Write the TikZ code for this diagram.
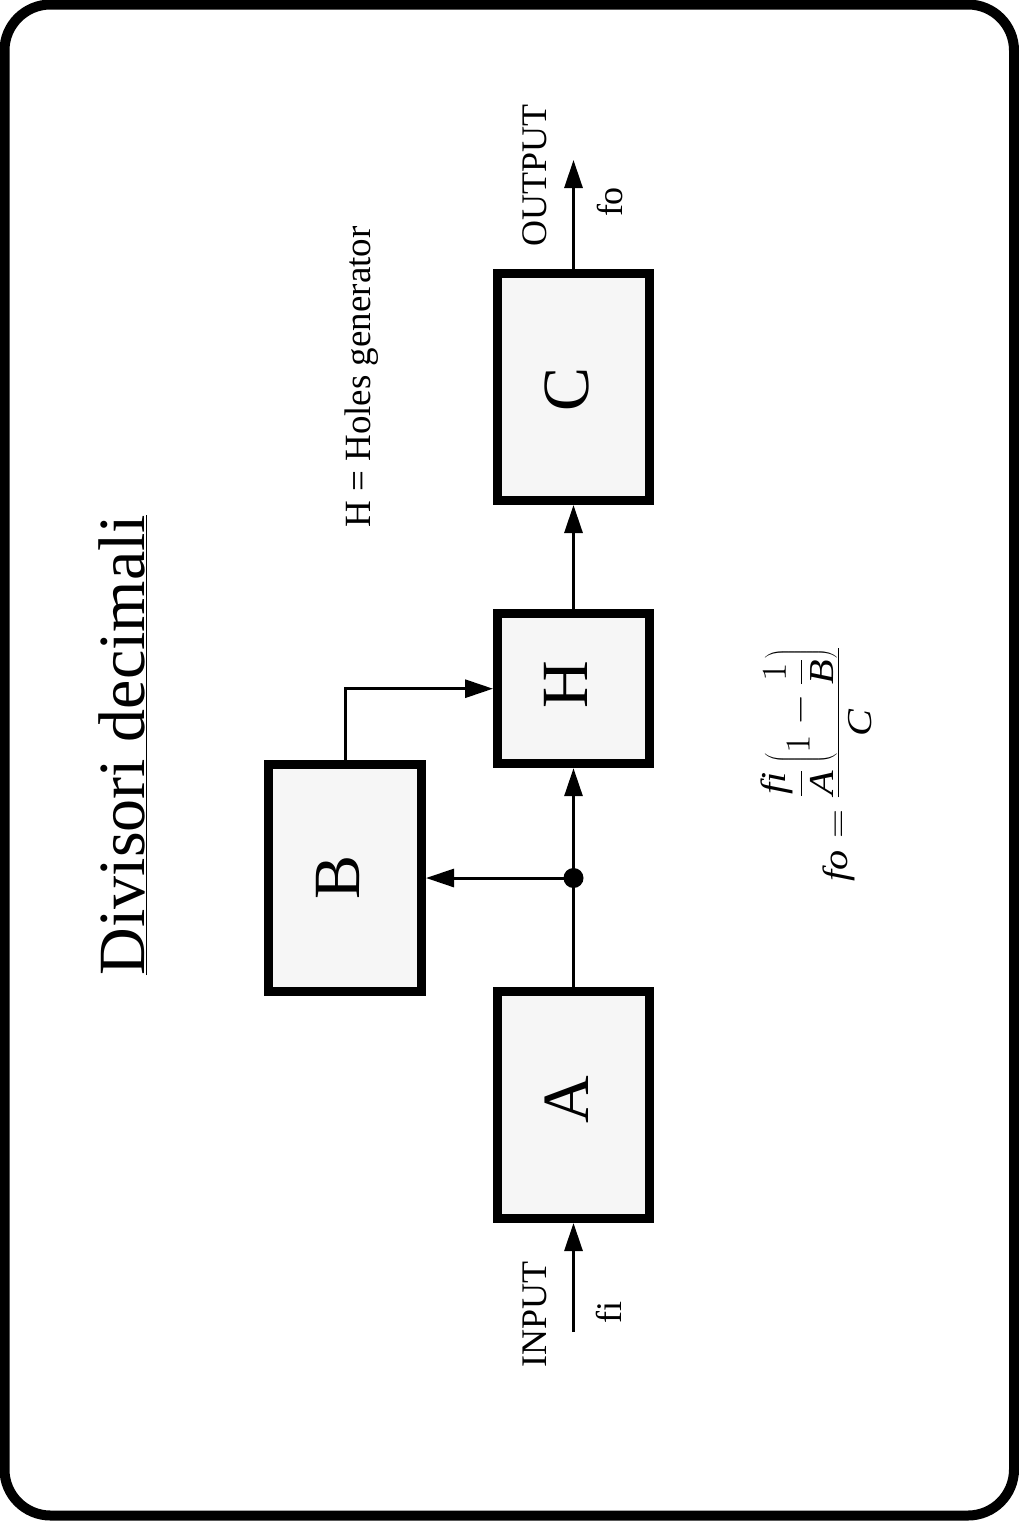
\RequirePackage{fix-cm}
\documentclass[tikz,border=0pt]{standalone}
\usepackage{fontspec}
\setmainfont{Liberation Serif}
\usetikzlibrary{arrows.meta}
\definecolor{boxfill}{RGB}{246,246,246}
\begin{document}
\begin{tikzpicture}[x=1pt,y=-1pt,
  block/.style={draw, line width=9pt, fill=boxfill, minimum width=152pt, inner sep=0pt},
  wire/.style={line width=3pt},
  flow/.style={wire, -{Triangle[length=28pt,width=18pt]}},
  tag/.style={rotate=90, inner sep=0pt, font=\fontsize{36}{40}\selectfont},
  letter/.style={rotate=90, inner sep=0pt, font=\fontsize{66}{70}\selectfont}]
\useasboundingbox (0,0) rectangle (1019,1521);

% outer frame
\draw[line width=10pt, rounded corners=46pt] (4.5,4.5) rectangle (1014,1515.5);

% blocks
\node[block, minimum height=227pt] (A) at (573.5,1105) {};
\node[block, minimum height=227pt, minimum width=153pt] (B) at (345,878) {};
\node[block, minimum height=150pt] (H) at (573.5,688.7) {};
\node[block, minimum height=227pt] (C) at (573.5,387) {};

\node[letter] (Aname) at (567,1100) {A};
\node[letter] (Bname) at (338,877) {B};
\node[letter] (Hname) at (566,684.5) {H};
\node[letter] (Cname) at (567,389) {C};

% connections
\coordinate (in) at (573.5,1332);
\coordinate (out) at (573.5,160);
\node[circle, fill=black, minimum size=20pt, inner sep=0pt] (split) at (573.5,878) {};
\draw[flow] (in) -- (A.south);
\draw[wire] (A.north) -- (split.center);
\draw[flow] (split.center) -- (H.south);
\draw[flow] (split.center) -- (B.east);
\draw[flow] (B.north) |- (H.west);
\draw[flow] (H.north) -- (C.south);
\draw[flow] (C.north) -- (out);

% labels
\node[tag] (inlbl) at (535,1314.5) {INPUT};
\node[tag] (filbl) at (609,1312) {fi};
\node[tag] (outlbl) at (535,175) {OUTPUT};
\node[tag] (folbl) at (610,202) {fo};
\node[tag] (hnote) at (362,377) {\fontsize{37}{40}\selectfont H = Holes generator};
\node[rotate=90, inner sep=0pt, font=\fontsize{66}{70}\selectfont] (title) at (123,745) {\underline{Divisori decimali}};
\node[rotate=90, inner sep=0pt, anchor=base, font=\fontsize{35}{38}\selectfont] (formula) at (847,764)
  {\scalebox{1.15}[1]{$\displaystyle\mathit{fo} = \frac{\displaystyle\frac{\mathit{fi}}{\mathit{A}}\left(1-\displaystyle\frac{1}{\mathit{B}}\right)}{\mathit{C}}$}};
\end{tikzpicture}
\end{document}
